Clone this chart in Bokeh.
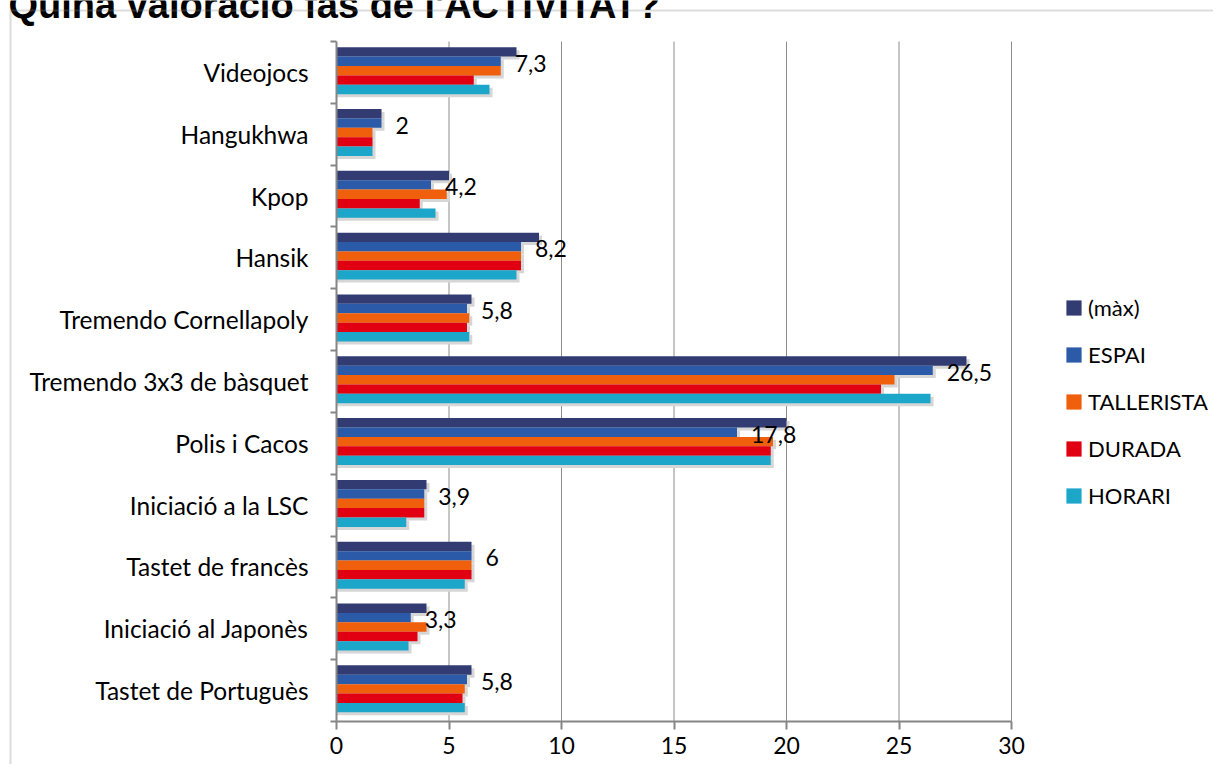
from bokeh.plotting import figure
from bokeh.models import (ColumnDataSource, Range1d, LinearAxis, FixedTicker, BoxAnnotation,
                          Label, Legend, LegendItem)
from bokeh.core.properties import value
from bokeh.embed import file_html
from bokeh.resources import INLINE

# ---------------- data ----------------
TITLE = "Quina valoració fas de l'ACTIVITAT?"
CATEGORIES = ["Videojocs", "Hangukhwa", "Kpop", "Hansik", "Tremendo Cornellapoly",
              "Tremendo 3x3 de bàsquet", "Polis i Cacos", "Iniciació a la LSC",
              "Tastet de francès", "Iniciació al Japonès", "Tastet de Portuguès"]
MAXV       = [8.0, 2.0, 5.0, 9.0, 6.0, 28.0, 20.0, 4.0, 6.0, 4.0, 6.0]
ESPAI      = [7.3, 2.0, 4.2, 8.2, 5.8, 26.5, 17.8, 3.9, 6.0, 3.3, 5.8]
TALLERISTA = [7.3, 1.6, 4.9, 8.2, 5.9, 24.8, 19.4, 3.9, 6.0, 4.0, 5.7]
DURADA     = [6.1, 1.6, 3.7, 8.2, 5.8, 24.2, 19.3, 3.9, 6.0, 3.6, 5.6]
HORARI     = [6.8, 1.6, 4.4, 8.0, 5.9, 26.4, 19.3, 3.1, 5.7, 3.2, 5.7]
SERIES_NAMES = ["(màx)", "ESPAI", "TALLERISTA", "DURADA", "HORARI"]
X_TICKS = [0, 5, 10, 15, 20, 25, 30]

# ---------------- styles / layout ----------------
COLORS = ["#323c73", "#2a5aa8", "#f0600c", "#e00012", "#1ca6c9"]
FONT = "Lato"
W, H = 1213, 764
X0_PX, X1_PX = 336, 1011          # canvas x of value 0 and 30
YB_PX, YT_PX = 721, 41            # canvas y of bottom / top of plot area
BAR_H = 0.152
GROUP_SHIFT = 0.028
SHADOW_PX = 3
AXIS_COLOR = "#868686"
GRID_COLOR = "#8c8c8c"
BORDER_PX = 10
TITLE_X_PX, TITLE_BASE_PX = 8, 4

N = len(CATEGORIES)
xmin, xmax = X_TICKS[0], X_TICKS[-1]
ppx = (X1_PX - X0_PX) / (xmax - xmin)
x_start = xmin - X0_PX / ppx
x_end = x_start + W / ppx
ppy = (YB_PX - YT_PX) / N
y_start = -0.5 - (H - YB_PX) / ppy
y_end = N - 0.5 + YT_PX / ppy

p = figure(width=W, height=H, x_range=Range1d(x_start, x_end),
           y_range=Range1d(y_start, y_end), output_backend="svg",
           toolbar_location=None, x_axis_location=None, y_axis_location=None,
           title=None, min_border=0)
p.min_border_left = p.min_border_right = p.min_border_top = p.min_border_bottom = 0
p.outline_line_color = None
p.grid.visible = False
p.background_fill_color = "white"
p.border_fill_color = "white"

pos = [N - 1 - i for i in range(N)]

# vertical grid lines
grid_x = [t for t in X_TICKS if t != xmin]
p.segment(x0=grid_x, y0=[-0.5] * len(grid_x), x1=grid_x, y1=[N - 0.5] * len(grid_x),
          line_color=GRID_COLOR, line_width=1)

series_vals = [MAXV, ESPAI, TALLERISTA, DURADA, HORARI]
offsets = [GROUP_SHIFT + (2 - k) * BAR_H for k in range(len(SERIES_NAMES))]

# soft shadows (3-D look of the original)
for k, vals in enumerate(series_vals):
    src = ColumnDataSource(dict(y=[c + offsets[k] - SHADOW_PX / ppy for c in pos],
                                right=[v + SHADOW_PX / ppx for v in vals]))
    p.hbar(y="y", left=0, right="right", height=BAR_H, source=src,
           fill_color="#d6d6d6", line_color=None)

items = []
for k, (name, vals, col) in enumerate(zip(SERIES_NAMES, series_vals, COLORS)):
    src = ColumnDataSource(dict(y=[c + offsets[k] for c in pos], right=vals))
    r = p.hbar(y="y", left=0, right="right", height=BAR_H, source=src,
               fill_color=col, line_color=None)
    items.append(LegendItem(label=name, renderers=[r]))

# value labels (ESPAI)
lab_src = ColumnDataSource(dict(
    x=ESPAI, y=[c + offsets[1] for c in pos],
    t=[f"{v:g}".replace(".", ",") for v in ESPAI]))
p.text(x="x", y="y", text="t", source=lab_src, x_offset=14, y_offset=2,
       text_align="left", text_baseline="middle", text_font=value(FONT),
       text_font_size="23px", text_color="black")

# y axis: boundary ticks
yax_ticks = LinearAxis(fixed_location=xmin,
                       ticker=FixedTicker(ticks=[i - 0.5 for i in range(N + 1)]),
                       bounds=(-0.5, N - 0.5))
yax_ticks.axis_line_color = AXIS_COLOR
yax_ticks.axis_line_width = 2
yax_ticks.major_tick_line_color = AXIS_COLOR
yax_ticks.major_tick_line_width = 2
yax_ticks.major_tick_out = 6
yax_ticks.major_tick_in = 0
yax_ticks.minor_tick_line_color = None
yax_ticks.major_label_text_color = None
p.add_layout(yax_ticks, "left")

# y axis: category labels
yax_lab = LinearAxis(fixed_location=xmin, ticker=FixedTicker(ticks=pos),
                     major_label_overrides={c: CATEGORIES[i] for i, c in enumerate(pos)})
yax_lab.axis_line_color = None
yax_lab.major_tick_line_color = None
yax_lab.minor_tick_line_color = None
yax_lab.major_tick_out = 0
yax_lab.major_tick_in = 0
yax_lab.major_label_standoff = 28
yax_lab.major_label_text_font = FONT
yax_lab.major_label_text_font_size = "24.5px"
yax_lab.major_label_text_color = "black"
p.add_layout(yax_lab, "left")

# x axis
xax = LinearAxis(fixed_location=-0.5, ticker=FixedTicker(ticks=X_TICKS), bounds=(xmin, xmax))
xax.axis_line_color = AXIS_COLOR
xax.axis_line_width = 2
xax.major_tick_line_color = AXIS_COLOR
xax.major_tick_line_width = 2
xax.major_tick_out = 8
xax.major_tick_in = 0
xax.minor_tick_line_color = None
xax.major_label_standoff = 7
xax.major_label_text_font = FONT
xax.major_label_text_font_size = "23px"
xax.major_label_text_color = "black"
p.add_layout(xax, "below")

# chart border (only its left and top edges fall inside the picture)
p.add_layout(BoxAnnotation(left=x_start + BORDER_PX / ppx, right=x_end + 5,
                           top=y_end - BORDER_PX / ppy, bottom=y_start - 5,
                           fill_alpha=0, line_color="#8c8c8c", line_width=2,
                           level="overlay"))

# title (cut off at the top, as in the reference)
p.add_layout(Label(x=x_start + TITLE_X_PX / ppx, y=y_end - TITLE_BASE_PX / ppy, text=TITLE,
                   text_font="Liberation Sans", text_font_style="bold",
                   text_font_size="38px", text_baseline="alphabetic", text_color="black"))

legend = Legend(items=items, location=(1064, 255), orientation="vertical")
legend.glyph_width = 19
legend.glyph_height = 19
legend.label_height = 15
legend.label_standoff = 5
legend.spacing = 20
legend.padding = 0
legend.margin = 0
legend.border_line_color = None
legend.background_fill_alpha = 0
legend.label_text_font = FONT
legend.label_text_font_size = "22px"
legend.label_text_color = "black"
p.add_layout(legend)

open("out.html", "w").write(file_html(p, INLINE))
